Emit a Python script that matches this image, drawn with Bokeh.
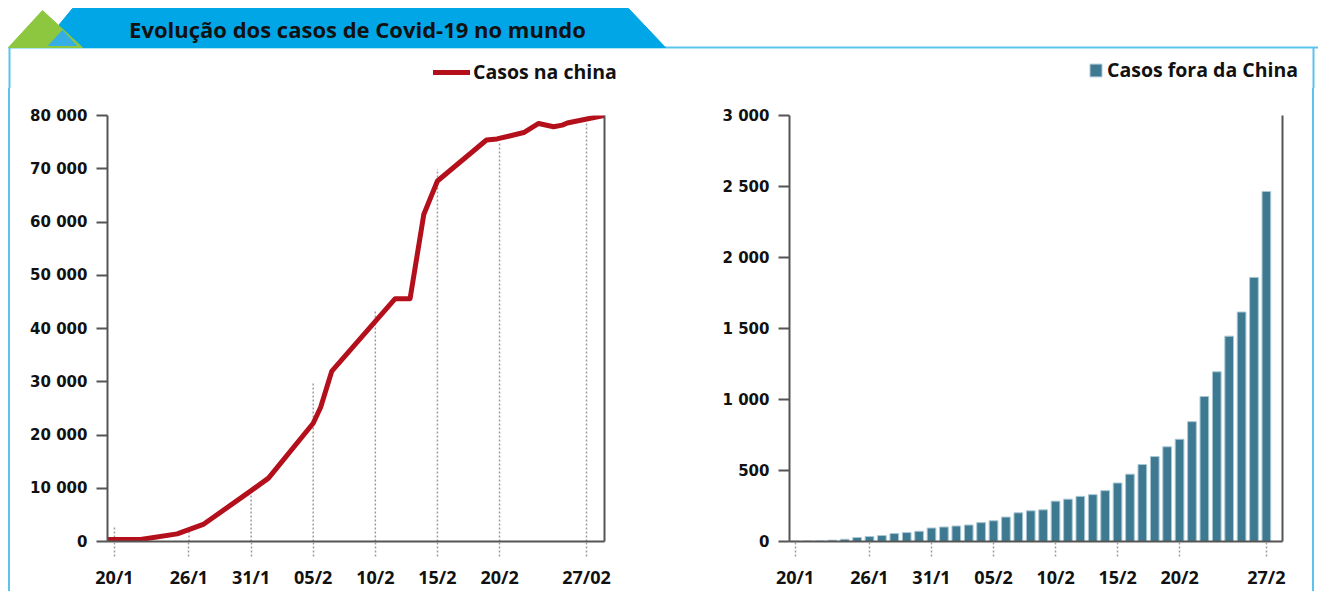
from bokeh.plotting import figure
from bokeh.models import (FixedTicker, LinearAxis, Legend, LegendItem, Div, Range1d, Spacer)
from bokeh.layouts import row, column
from bokeh.embed import file_html
from bokeh.resources import INLINE
from bokeh.core.properties import value

# ---------------- data ----------------
title_text = "Evolução dos casos de Covid-19 no mundo"
left_legend = "Casos na china"
right_legend = "Casos fora da China"

# x axis: days since 20/1
date_ticks = [0, 6, 11, 16, 21, 26, 31, 38]
left_date_labels = ["20/1", "26/1", "31/1", "05/2", "10/2", "15/2", "20/2", "27/02"]
right_date_labels = ["20/1", "26/1", "31/1", "05/2", "10/2", "15/2", "20/2", "27/2"]

# China cumulative cases (line vertices)
china_day = [-0.55, 2.1, 5.05, 7.2, 10.95, 12.4, 16.0, 16.6, 17.5, 22.6, 23.8,
             24.9, 26.0, 29.95, 30.8, 32.95, 34.15, 35.35, 36.05, 36.45, 39.4]
china_cases = [370, 370, 1430, 3280, 9460, 11900, 22200, 25200, 32000, 45600, 45600,
               61400, 67700, 75400, 75600, 76800, 78500, 77900, 78200, 78600, 80000]
# heights of the dotted drop lines at each date tick
guide_top = [2650, 1725, 8850, 29860, 43170, 69930, 75000, 78700]

left_y_ticks = [0, 10000, 20000, 30000, 40000, 50000, 60000, 70000, 80000]
left_y_labels = ["0", "10 000", "20 000", "30 000", "40 000", "50 000",
                 "60 000", "70 000", "80 000"]

# cases outside China, daily from 20/1 to 27/2
outside_day = list(range(39))
outside_cases = [2, 3, 4, 9, 16, 28, 35, 42, 56, 63, 72, 95, 102, 109, 116, 133,
                 146, 172, 202, 216, 223, 284, 298, 318, 330, 358, 412, 474, 542,
                 598, 667, 720, 844, 1021, 1195, 1446, 1616, 1860, 2465]

right_y_ticks = [0, 500, 1000, 1500, 2000, 2500, 3000]
right_y_labels = ["0", "500", "1 000", "1 500", "2 000", "2 500", "3 000"]

# ---------------- styles ----------------
RED = "#b3101c"
BAR = "#3d7a92"
BAR_EDGE = "#a9c8d4"
BANNER = "#00a6e6"
GREEN = "#8dc63f"
FRAME = "#5cc3ee"
AXIS = "#555555"
DOT = "#9c9c9c"
TXT = "#111111"
FONT = "Open Sans"
NUMFONT = "DejaVu Sans"

W = 1318
HDR_H = 88
CH_H = 503
NAN = float("nan")


def style_chart(p, yticks, ylabels, xlabels):
    p.outline_line_color = None
    p.xgrid.grid_line_color = None
    p.ygrid.grid_line_color = None
    p.background_fill_color = "white"
    p.border_fill_color = "white"

    xa = p.xaxis[0]
    xa.ticker = FixedTicker(ticks=date_ticks)
    xa.major_label_overrides = {t: l for t, l in zip(date_ticks, xlabels)}
    xa.axis_line_color = AXIS
    xa.axis_line_width = 2
    xa.major_tick_in = 0
    xa.major_tick_out = 15
    xa.major_tick_line_color = DOT
    xa.major_tick_line_width = 1.5
    xa.major_tick_line_dash = "2 2"
    xa.minor_tick_line_color = None
    xa.major_label_standoff = 8
    xa.major_label_text_font = FONT
    xa.major_label_text_font_style = "bold"
    xa.major_label_text_font_size = "18px"
    xa.major_label_text_color = TXT

    ya = p.yaxis[0]
    ya.ticker = FixedTicker(ticks=yticks)
    ya.major_label_overrides = {t: l for t, l in zip(yticks, ylabels)}
    ya.axis_line_color = AXIS
    ya.axis_line_width = 2
    ya.major_tick_in = 0
    ya.major_tick_out = 11
    ya.major_tick_line_color = AXIS
    ya.major_tick_line_width = 2
    ya.minor_tick_line_color = None
    ya.major_label_standoff = 9
    ya.major_label_text_font = NUMFONT
    ya.major_label_text_font_style = "bold"
    ya.major_label_text_font_size = "15px"
    ya.major_label_text_color = TXT

    right_ax = LinearAxis(ticker=FixedTicker(ticks=[]), axis_line_color=AXIS,
                          axis_line_width=2, major_tick_line_color=None,
                          minor_tick_line_color=None,
                          major_label_text_font_size="0px")
    p.add_layout(right_ax, "right")


# ---------------- header (banner + legends) ----------------
hdr = figure(width=W, height=HDR_H, x_range=Range1d(0, W), y_range=Range1d(0, HDR_H),
             output_backend="svg", toolbar_location=None,
             min_border_left=0, min_border_right=0, min_border_top=0, min_border_bottom=0)
hdr.axis.visible = False
hdr.grid.grid_line_color = None
hdr.outline_line_color = None
hdr.background_fill_color = "white"
hdr.border_fill_color = "white"

# light blue frame: top line and the beginning of both side lines
hdr.segment(x0=[8, 9, 1313], y0=[41, 41, 41], x1=[W, 9, 1313], y1=[41, 0, 0],
            line_color=FRAME, line_width=2)
hdr.patch(x=[72, 628, 665, 40], y=[80, 80, 41, 41], fill_color=BANNER, line_color=BANNER)
hdr.patch(x=[42, 8, 82], y=[78, 41, 41], fill_color=GREEN, line_color=GREEN)
hdr.patch(x=[62, 48, 76], y=[58, 43, 43], fill_color="#35aee6", line_color="#35aee6")
hdr.text(x=[357], y=[60], text=[title_text], text_font=value(FONT),
         text_font_style="bold", text_font_size="22px", text_color=TXT,
         text_align="center", text_baseline="middle")

# legend proxies (not drawn: NaN data), only used for the legend swatches
leg_line = hdr.line(x=[NAN, NAN], y=[NAN, NAN], line_color=RED, line_width=5, line_cap="round")
leg_bar = hdr.vbar(x=[NAN], top=[NAN], width=1, fill_color=BAR, line_color=BAR_EDGE, line_width=1)


def make_legend(item, loc, gw, gh, standoff):
    return Legend(items=[item], location=loc, border_line_color=None,
                  background_fill_alpha=0, padding=0, margin=0, spacing=0,
                  glyph_width=gw, glyph_height=gh, label_standoff=standoff,
                  label_text_font=FONT, label_text_font_style="bold",
                  label_text_font_size="19.5px", label_text_color=TXT,
                  label_height=20)


hdr.add_layout(make_legend(LegendItem(label=left_legend, renderers=[leg_line]),
                           (433, 3), 37, 20, 3))
hdr.add_layout(make_legend(LegendItem(label=right_legend, renderers=[leg_bar]),
                           (1088, 5), 15, 16, 4))

# ---------------- left chart ----------------
p1 = figure(width=690, height=CH_H, x_range=Range1d(-0.56, 39.45), y_range=Range1d(0, 80000),
            output_backend="svg", toolbar_location=None,
            min_border_left=97, min_border_right=96, min_border_top=27, min_border_bottom=45)
style_chart(p1, left_y_ticks, left_y_labels, left_date_labels)
p1.segment(x0=date_ticks, y0=[0] * len(date_ticks), x1=date_ticks, y1=guide_top,
           line_color=DOT, line_width=1.5, line_dash="2 2")
p1.line(china_day, china_cases, line_color=RED, line_width=5,
        line_join="round", line_cap="round")

# ---------------- right chart ----------------
p2 = figure(width=612, height=CH_H, x_range=Range1d(-0.45, 39.3), y_range=Range1d(0, 3000),
            output_backend="svg", toolbar_location=None,
            min_border_left=89, min_border_right=30, min_border_top=27, min_border_bottom=45)
style_chart(p2, right_y_ticks, right_y_labels, right_date_labels)
p2.vbar(x=outside_day, top=outside_cases, width=0.7, fill_color=BAR,
        line_color=BAR_EDGE, line_width=1)

left_pad = Spacer(width=8, height=CH_H)
left_border = Div(text="", width=2, height=CH_H, margin=0, styles={"background-color": FRAME})
right_border = Div(text="", width=2, height=CH_H, margin=0, styles={"background-color": FRAME})

layout = column(hdr, row(left_pad, left_border, p1, p2, right_border, spacing=0), spacing=0)

open("out.html", "w").write(file_html(layout, INLINE))
